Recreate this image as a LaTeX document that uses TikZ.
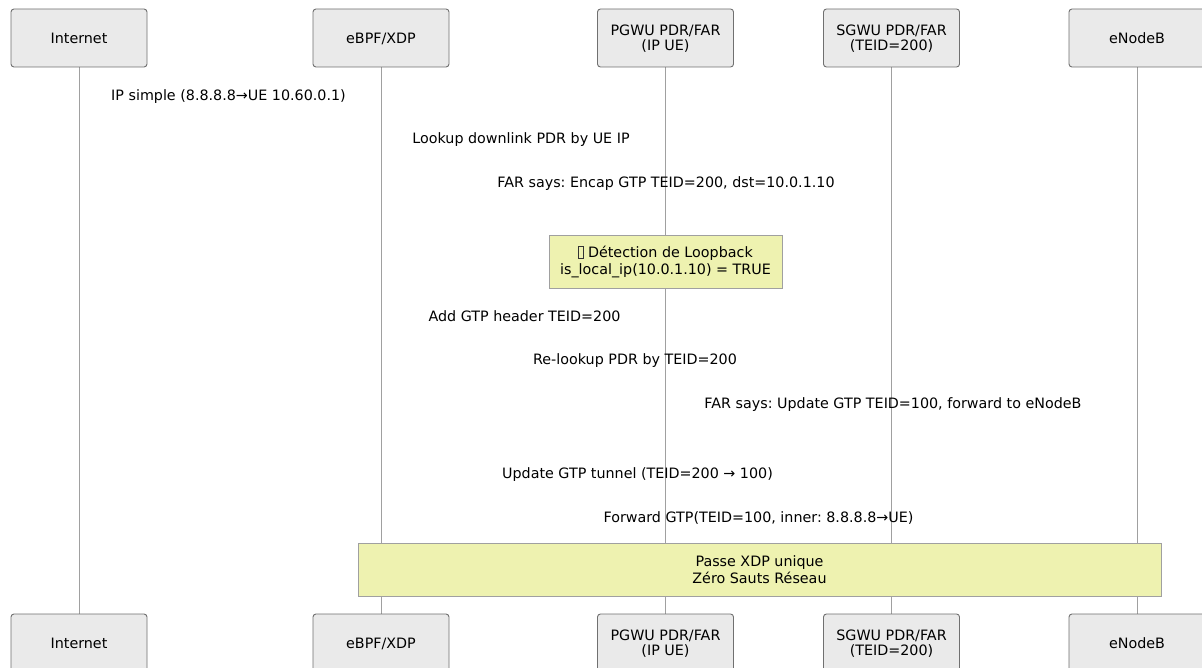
\documentclass[tikz,border=0pt]{standalone}
\usepackage{fontspec}
\setmainfont{DejaVu Sans}
\frenchspacing
\definecolor{actfill}{HTML}{EAEAEA}
\definecolor{actdraw}{HTML}{707070}
\definecolor{lifecol}{HTML}{A0A0A0}
\definecolor{notefill}{HTML}{EEF2B0}
\definecolor{notedraw}{HTML}{A0A0A0}
\definecolor{tofucol}{HTML}{333333}
\newcommand{\tofubox}{\raisebox{-0.1ex}{\setlength{\fboxsep}{0pt}\setlength{\fboxrule}{0.5pt}\textcolor{tofucol}{\fbox{\rule{0pt}{1.45ex}\hspace{0.3em}}}}}
\begin{document}
\begin{tikzpicture}[x=1pt,y=-1pt,
  every node/.style={font=\fontsize{14.3}{15}\selectfont, inner sep=0pt},
  actor/.style={draw=actdraw, fill=actfill, rounded corners=3pt, line width=0.9pt,
     minimum width=136pt, minimum height=58pt, align=center, text depth=0pt},
  lifeline/.style={draw=lifecol, line width=0.9pt},
  msg/.style={anchor=center, yshift=-1.5pt},
  notebox/.style={draw=notedraw, fill=notefill, line width=0.9pt, align=center,
     font=\fontsize{14.3}{17}\selectfont}]
\useasboundingbox (0,0) rectangle (1202,668);
\fill[white] (0,0) rectangle (1202,668);
% lifelines
\coordinate (lt1) at (79,67);  \coordinate (lb1) at (79,614);
\coordinate (lt2) at (381,67); \coordinate (lb2) at (381,614);
\coordinate (lt3) at (665,67); \coordinate (lb3) at (665,614);
\coordinate (lt4) at (891,67); \coordinate (lb4) at (891,614);
\coordinate (lt5) at (1137,67); \coordinate (lb5) at (1137,614);
\draw[lifeline] (lt1) -- (lb1);
\draw[lifeline] (lt2) -- (lb2);
\draw[lifeline] (lt3) -- (lb3);
\draw[lifeline] (lt4) -- (lb4);
\draw[lifeline] (lt5) -- (lb5);
% actors top
\node[actor] (a1) at (79,38) {Internet};
\node[actor] (a2) at (381,38) {eBPF/XDP};
\node[actor] (a3) at (665.5,38) {PGWU PDR/FAR\\(IP UE)};
\node[actor] (a4) at (891.5,38) {SGWU PDR/FAR\\(TEID=200)};
\node[actor] (a5) at (1137,38) {eNodeB};
% actors bottom
\node[actor] (b1) at (79,643) {Internet};
\node[actor] (b2) at (381,643) {eBPF/XDP};
\node[actor] (b3) at (665.5,643) {PGWU PDR/FAR\\(IP UE)};
\node[actor] (b4) at (891.5,643) {SGWU PDR/FAR\\(TEID=200)};
\node[actor] (b5) at (1137,643) {eNodeB};
% messages
\node[msg] (m1) at (228.5,95) {IP simple (8.8.8.8→UE 10.60.0.1)};
\node[msg] (m2) at (521,138) {Lookup downlink PDR by UE IP};
\node[msg] (m3) at (666,182) {FAR says: Encap GTP TEID=200, dst=10.0.1.10};
\node[notebox, minimum width=233pt, minimum height=53pt] (n1) at (665.5,261.5)
  {\tofubox{} Détection de Loopback\\is\_local\_ip(10.0.1.10) = TRUE};
\node[msg] (m4) at (524.5,315) {Add GTP header TEID=200};
\node[msg] (m5) at (635,359) {Re-lookup PDR by TEID=200};
\node[msg] (m6) at (893,403) {FAR says: Update GTP TEID=100, forward to eNodeB};
\node[msg] (m7) at (637.5,473) {Update GTP tunnel (TEID=200 → 100)};
\node[msg] (m8) at (758.5,517) {Forward GTP(TEID=100, inner: 8.8.8.8→UE)};
\node[notebox, minimum width=803pt, minimum height=53pt] (n2) at (759.5,569.5)
  {Passe XDP unique\\Zéro Sauts Réseau};
\end{tikzpicture}
\end{document}
